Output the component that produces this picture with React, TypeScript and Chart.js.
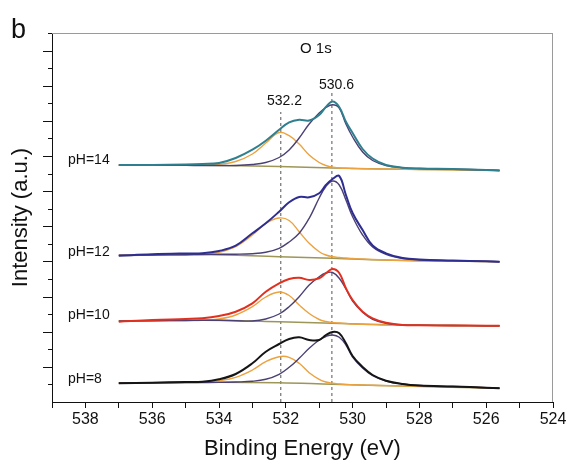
import React, { useEffect, useRef } from "react";
import { Chart, registerables } from "chart.js";

Chart.register(...registerables);

// ---------- data (binding energy in eV, intensity in a.u.) ----------
const energies = [537.0, 536.0, 535.0, 534.5, 534.0, 533.5, 533.0, 532.6, 532.2, 531.9, 531.6, 531.3, 531.0, 530.8, 530.6, 530.4, 530.2, 530.0, 529.7, 529.4, 529.0, 528.5, 528.0, 527.0, 526.0, 525.6];

const raw14 = [237, 237, 237.5, 238, 239, 244, 252.3, 261.3, 272.3, 279.7, 282.3, 281.5, 287, 295, 300.5, 295, 280.3, 269, 253, 243.5, 237, 234.3, 233.5, 233, 232, 231.5];
const lattice14 = [236.7, 236.7, 236.6, 236.5, 236.5, 236.5, 237.5, 239.5, 244.5, 252, 264, 278, 289, 294.5, 297.3, 294, 278, 265, 250, 241.5, 236.5, 234.3, 233.5, 232.8, 232, 231.5];
const hydroxyl14 = [237, 237, 237, 237.2, 237.8, 240.5, 248, 259, 269.5, 266.3, 258, 247, 239.5, 236.5, 234.7, 234, 233.7, 233.5, 233.3, 233.1, 233, 232.7, 232.5, 232.2, 231.8, 231.5];

const raw12 = [146.3, 147.7, 148.5, 148.7, 151, 156.3, 168.7, 178.7, 190.3, 199.7, 205, 204.7, 208.7, 217, 223, 226, 207, 189, 172, 156.5, 148.7, 144, 142.5, 141.5, 140.7, 140.3];
const lattice12 = [146.8, 147, 147.3, 147.5, 147.7, 147.8, 148.3, 149.7, 153.7, 160, 168.7, 183.7, 204, 215.5, 221, 217, 202, 185.3, 167, 155, 147.7, 143.5, 142, 141.2, 140.6, 140.3];
const hydroxyl12 = [146.8, 147, 147.3, 147.7, 149.7, 155.3, 167, 178.7, 184, 181.5, 170.3, 158.7, 150.3, 147, 145.3, 144.5, 144, 143.5, 143, 142.5, 142, 141.6, 141.3, 141, 140.5, 140.3];

const raw10 = [80.3, 82, 83, 83.7, 86, 90.3, 98.7, 110.3, 118.7, 123, 124.3, 122, 123.7, 128.7, 133, 129, 113.7, 102, 90.3, 83.7, 79.3, 77, 76.7, 76.5, 76.3, 76.3];
const lattice10 = [81, 81.3, 81.5, 81.7, 81.7, 81.3, 81, 83, 88, 95.3, 105.3, 117, 125.3, 129, 129.5, 123.7, 113, 101, 89.7, 82.7, 78.7, 77, 76.7, 76.5, 76.3, 76.3];
const hydroxyl10 = [81, 81.3, 81.5, 81.7, 83, 87, 95.3, 105, 110, 106.5, 97, 88.5, 82.5, 80.5, 79.5, 79, 78.5, 78, 77.7, 77.4, 77, 76.8, 76.7, 76.5, 76.3, 76.3];

const raw8 = [18.7, 19.3, 20, 20.3, 22.7, 28, 38.7, 50.3, 58, 63, 64.7, 62, 62, 67, 70, 68.7, 58.7, 46, 35, 27, 21.3, 18, 16.5, 15.5, 14.3, 13.7];
const lattice8 = [19, 19.2, 19.4, 19.5, 19.6, 20, 20.7, 22.7, 27.7, 34.7, 43.7, 53.7, 62, 65.5, 67, 64.7, 57, 45, 34, 26.3, 21, 18, 16.5, 15.5, 14.3, 13.7];
const hydroxyl8 = [19, 19.2, 19.4, 19.7, 21.3, 24.7, 32, 40.3, 45.3, 44.7, 38.7, 29.3, 22.7, 20, 18.7, 18, 17.5, 17.3, 17, 16.7, 16.4, 16, 15.7, 15.2, 14.3, 13.7];

const baseEnergies = [537.0, 534.5, 532.2, 530.6, 528.5, 525.6];
const base14 = [237, 236.8, 235.5, 234, 232.8, 231.5];
const base12 = [146.5, 147.5, 145.3, 143.7, 141.5, 140.3];
const base10 = [81, 81.7, 80.3, 78.7, 77, 76];
const base8 = [18.7, 19.7, 19.3, 17.7, 16, 13.7];

const spectrumLabels = ["pH=14", "pH=12", "pH=10", "pH=8"];
const peakLabels = ["532.2", "530.6"];
const peakLines = [532.15, 530.62];
const peakLineTops = [290, 310];

const xMin = 524;
const xMax = 539;
const yMax = 369;
const yTickCount = 21;

// ---------- styles / annotation positions ----------
const FONT = "'Liberation Sans', Arial, Helvetica, sans-serif";
const rawColors = ["#2f7f8e", "#2e2e92", "#e2301f", "#151515"];
const latticeColor = "#4b4074";
const hydroxylColor = "#eba23f";
const baseColor = "#9d9658";
const labelX = 538.52;
const labelY = [238, 146, 83, 19.5];
const peakLabelX = [532.04, 530.48];
const peakLabelY = [297, 312.7];
const titleX = 531.1;
const titleY = 349;

const pts = (xs: number[], ys: number[]) => xs.map((x, i) => ({ x, y: ys[i] }));

export default function App() {
  const ref = useRef<HTMLCanvasElement | null>(null);

  useEffect(() => {
    if (!ref.current) return;
    Chart.defaults.font.family = FONT;
    const raws = [raw14, raw12, raw10, raw8];
    const lats = [lattice14, lattice12, lattice10, lattice8];
    const hyds = [hydroxyl14, hydroxyl12, hydroxyl10, hydroxyl8];
    const bases = [base14, base12, base10, base8];

    const datasets: any[] = [];
    raws.forEach((r, i) => {
      datasets.push({
        label: spectrumLabels[i],
        data: pts(energies, r),
        borderColor: rawColors[i],
        borderWidth: 2,
        pointRadius: 0,
        tension: 0.4,
        order: 0,
      });
      datasets.push({
        label: spectrumLabels[i] + " 530.6",
        data: pts(energies, lats[i]),
        borderColor: latticeColor,
        borderWidth: 1.4,
        pointRadius: 0,
        tension: 0.4,
        order: 1,
      });
      datasets.push({
        label: spectrumLabels[i] + " 532.2",
        data: pts(energies, hyds[i]),
        borderColor: hydroxylColor,
        borderWidth: 1.4,
        pointRadius: 0,
        tension: 0.4,
        order: 2,
      });
      datasets.push({
        label: spectrumLabels[i] + " background",
        data: pts(baseEnergies, bases[i]),
        borderColor: baseColor,
        borderWidth: 1.5,
        pointRadius: 0,
        tension: 0.4,
        order: 3,
      });
    });
    peakLines.forEach((e, i) => {
      datasets.push({
        label: peakLabels[i],
        data: [
          { x: e, y: 0 },
          { x: e, y: peakLineTops[i] },
        ],
        borderColor: "#555",
        borderWidth: 1,
        borderDash: [3, 3],
        pointRadius: 0,
        order: 4,
      });
    });

    const decor = {
      id: "decor",
      afterDraw(chart: any) {
        const { ctx, chartArea: a, scales } = chart;
        const x = scales.x;
        const y = scales.y;
        ctx.save();
        // top and right frame
        ctx.strokeStyle = "#9a9a9a";
        ctx.lineWidth = 1;
        ctx.beginPath();
        ctx.moveTo(a.left, Math.round(a.top) + 0.5);
        ctx.lineTo(a.right, Math.round(a.top) + 0.5);
        ctx.moveTo(Math.round(a.right) - 0.5, a.top);
        ctx.lineTo(Math.round(a.right) - 0.5, a.bottom);
        ctx.stroke();
        // y ticks (major/minor)
        ctx.strokeStyle = "#111";
        for (let k = 1; k <= yTickCount; k++) {
          const py = Math.round(y.getPixelForValue((k * yMax) / yTickCount)) + 0.5;
          const len = k % 2 === 0 ? 9 : 4;
          ctx.beginPath();
          ctx.moveTo(a.left - len, py);
          ctx.lineTo(a.left, py);
          ctx.stroke();
        }
        // texts
        ctx.fillStyle = "#111";
        ctx.textBaseline = "alphabetic";
        ctx.font = `14px ${FONT}`;
        ctx.textAlign = "left";
        spectrumLabels.forEach((t, i) => {
          ctx.fillText(t, x.getPixelForValue(labelX), y.getPixelForValue(labelY[i]));
        });
        ctx.textAlign = "center";
        peakLabels.forEach((t, i) => {
          ctx.fillText(t, x.getPixelForValue(peakLabelX[i]), y.getPixelForValue(peakLabelY[i]));
        });
        ctx.font = `15px ${FONT}`;
        ctx.fillText("O 1s", x.getPixelForValue(titleX), y.getPixelForValue(titleY));
        ctx.textAlign = "left";
        ctx.font = `27px ${FONT}`;
        ctx.fillText("b", 11, 38);
        ctx.restore();
      },
    };

    const chart = new Chart(ref.current, {
      type: "line",
      data: { datasets },
      plugins: [decor],
      options: {
        animation: false,
        responsive: false,
        devicePixelRatio: 1,
        layout: { padding: { top: 33, right: 16, left: 0, bottom: 0 } },
        plugins: { legend: { display: false }, tooltip: { enabled: false } },
        scales: {
          x: {
            type: "linear",
            min: xMin,
            max: xMax,
            reverse: true,
            ticks: {
              stepSize: 1,
              autoSkip: false,
              maxRotation: 0,
              padding: 2,
              color: "#111",
              font: { size: 16, family: FONT },
              callback: (v: any) => (Number(v) % 2 === 0 ? String(v) : ""),
            },
            grid: { drawOnChartArea: false, tickLength: 6, color: "#111", lineWidth: 1 },
            border: { color: "#111", width: 1 },
            title: {
              display: true,
              text: "Binding Energy (eV)",
              color: "#111",
              font: { size: 22, family: FONT },
              padding: { top: 0, bottom: 0 },
            },
            afterFit: (s: any) => {
              s.height = 60;
            },
          },
          y: {
            type: "linear",
            min: 0,
            max: yMax,
            ticks: { display: false },
            grid: { display: false },
            border: { color: "#111", width: 1 },
            title: {
              display: true,
              text: "Intensity (a.u.)",
              color: "#111",
              font: { size: 22, family: FONT },
              padding: { top: 7.5, bottom: 0 },
            },
            afterFit: (s: any) => {
              s.width = 52;
            },
          },
        },
      },
    } as any);
    return () => chart.destroy();
  }, []);

  return (
    <canvas
      ref={ref}
      width={569}
      height={462}
      style={{ position: "fixed", left: 0, top: 0, width: 569, height: 462, display: "block", background: "#fff" }}
    />
  );
}
